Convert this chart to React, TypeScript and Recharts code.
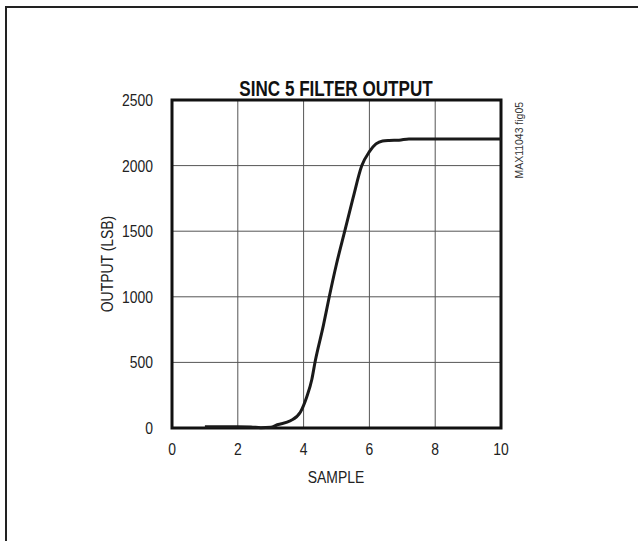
import React from "react";
import { LineChart, Line, XAxis, YAxis, CartesianGrid, ReferenceArea } from "recharts";

const samples = [1.0, 1.5, 2.0, 2.4, 2.7, 3.0, 3.2, 3.6, 3.9, 4.1, 4.25, 4.35, 4.6, 4.78, 5.0, 5.26, 5.5, 5.77, 6.0, 6.2, 6.4, 6.6, 6.9, 7.2, 8.0, 10.0];
const outputs = [10, 10, 10, 8, 2, 5, 25, 55, 120, 240, 370, 505, 780, 1000, 1250, 1510, 1750, 2000, 2106, 2165, 2188, 2192, 2194, 2203, 2203, 2203];
const xTicks = [0, 2, 4, 6, 8, 10];
const yTicks = [0, 500, 1000, 1500, 2000, 2500];

const title = "SINC 5 FILTER OUTPUT";
const xLabel = "SAMPLE";
const yLabel = "OUTPUT (LSB)";
const sideNote = "MAX11043 fig05";

const data = samples.map((s, i) => ({ sample: s, output: outputs[i] }));

const FONT = "'Liberation Sans', Arial, sans-serif";
const NARROW = 0.82;

const XTick = (props: any) => {
  const { x, y, payload } = props;
  return (
    <g transform={`translate(${x},${y})`}>
      <text transform={`scale(${NARROW},1)`} textAnchor="middle" dy="0.71em" fontFamily={FONT} fontSize={17} fill="#222">
        {payload.value}
      </text>
    </g>
  );
};

const YTick = (props: any) => {
  const { x, y, payload } = props;
  return (
    <g transform={`translate(${x},${y})`}>
      <text transform={`scale(${NARROW},1)`} textAnchor="end" dy="0.355em" fontFamily={FONT} fontSize={17} fill="#222">
        {payload.value}
      </text>
    </g>
  );
};

export default function App() {
  return (
    <div style={{ position: "absolute", left: 0, top: 0, width: 638, height: 541, overflow: "hidden", background: "#fff" }}>
      <div style={{ position: "absolute", left: 5, top: 6, width: 700, height: 600, borderTop: "2px solid #222", borderLeft: "2px solid #222" }} />
      <div style={{ position: "absolute", left: 0, top: 0 }}>
        <LineChart width={638} height={541} data={data} margin={{ top: 100, right: 137, bottom: 83, left: 112 }}>
          <CartesianGrid stroke="#555" strokeWidth={1} />
          <XAxis
            dataKey="sample"
            type="number"
            domain={[0, 10]}
            ticks={xTicks}
            axisLine={false}
            tickLine={false}
            tickSize={0}
            tickMargin={15}
            height={30}
            tick={<XTick />}
          />
          <YAxis
            type="number"
            domain={[0, 2500]}
            ticks={yTicks}
            axisLine={false}
            tickLine={false}
            tickSize={0}
            tickMargin={19}
            width={60}
            tick={<YTick />}
          />
          <ReferenceArea x1={0} x2={10} y1={0} y2={2500} fill="none" fillOpacity={0} stroke="#111" strokeWidth={3} ifOverflow="visible" />
          <Line type="monotone" dataKey="output" stroke="#1a1a1a" strokeWidth={3} dot={false} isAnimationActive={false} />
        </LineChart>
      </div>
      <svg style={{ position: "absolute", left: 0, top: 0 }} width={638} height={541}>
        <g transform="translate(336,96)">
          <text transform="scale(0.76,1)" textAnchor="middle" fontFamily={FONT} fontWeight="bold" fontSize={22.5} fill="#111">{title}</text>
        </g>
        <g transform="translate(336,483)">
          <text transform={`scale(${NARROW},1)`} textAnchor="middle" fontFamily={FONT} fontSize={17} fill="#222">{xLabel}</text>
        </g>
        <g transform="translate(113,264) rotate(-90)">
          <text transform={`scale(${NARROW},1)`} textAnchor="middle" fontFamily={FONT} fontSize={17} fill="#222">{yLabel}</text>
        </g>
        <g transform="translate(523,102) rotate(-90)">
          <text transform="scale(0.95,1)" textAnchor="end" fontFamily={FONT} fontSize={11} fill="#333">{sideNote}</text>
        </g>
      </svg>
    </div>
  );
}
